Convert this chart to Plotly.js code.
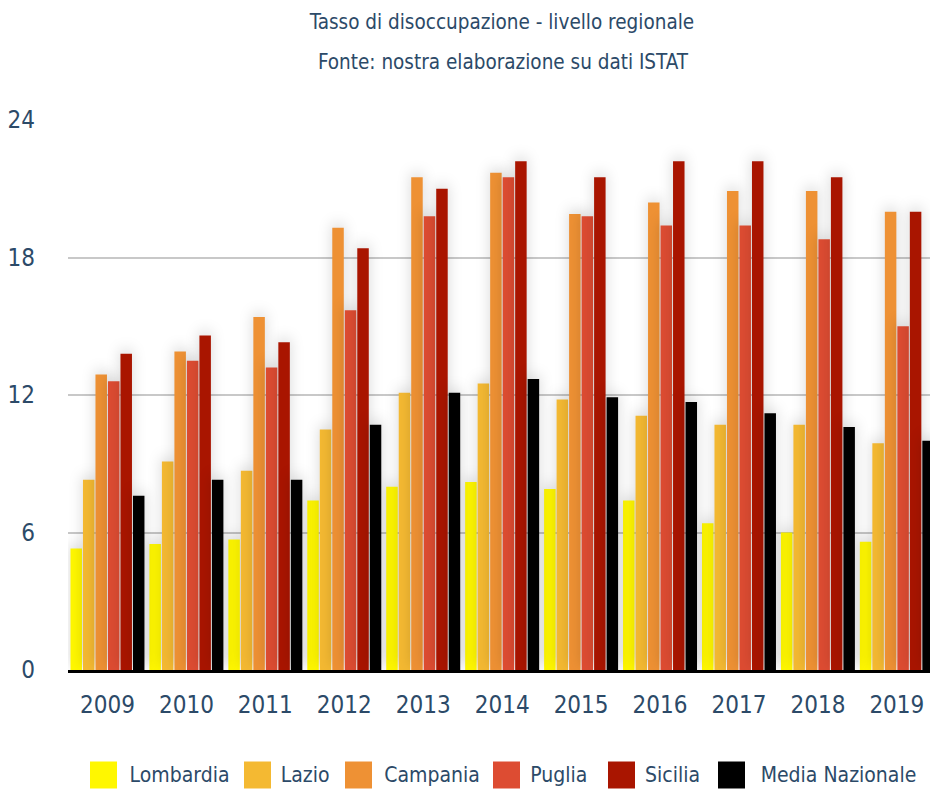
<!DOCTYPE html>
<html>
<head>
<meta charset="utf-8">
<script src="https://cdn.plot.ly/plotly-3.0.1.min.js"></script>
<style>
html,body{margin:0;padding:0;background:#fff;}
#chart{width:930px;height:789px;}
#chart text{font-stretch:condensed !important;}
#chart g.barlayer g.trace{filter:drop-shadow(0px -4px 7px rgba(0,0,0,0.16));}
</style>
</head>
<body>
<div id="chart"></div>
<script>
const years = ["2009","2010","2011","2012","2013","2014","2015","2016","2017","2018","2019"];
const seriesNames = ["Lombardia","Lazio","Campania","Puglia","Sicilia","Media Nazionale"];
const lombardia = [5.3, 5.5, 5.7, 7.4, 8.0, 8.2, 7.9, 7.4, 6.4, 6.0, 5.6];
const lazio     = [8.3, 9.1, 8.7, 10.5, 12.1, 12.5, 11.8, 11.1, 10.7, 10.7, 9.9];
const campania  = [12.9, 13.9, 15.4, 19.3, 21.5, 21.7, 19.9, 20.4, 20.9, 20.9, 20.0];
const puglia    = [12.6, 13.5, 13.2, 15.7, 19.8, 21.5, 19.8, 19.4, 19.4, 18.8, 15.0];
const sicilia   = [13.8, 14.6, 14.3, 18.4, 21.0, 22.2, 21.5, 22.2, 22.2, 21.5, 20.0];
const media     = [7.6, 8.3, 8.3, 10.7, 12.1, 12.7, 11.9, 11.7, 11.2, 10.6, 10.0];
const yTicks = [0, 6, 12, 18, 24];
const titleLine1 = "Tasso di disoccupazione - livello regionale";
const titleLine2 = "Fonte: nostra elaborazione su dati ISTAT";

const colors = ["#FFF700", "#F4B932", "#EE9134", "#DD4C32", "#A91500", "#000000"];
const values = [lombardia, lazio, campania, puglia, sicilia, media];
const FONT = "'DejaVu Sans', sans-serif";
const TXT = "#2c4a68";
const LEGSIZE = 21;

const traces = seriesNames.map((n, i) => ({
  type: "bar", name: n, x: years, y: values[i],
  marker: {color: colors[i], line: {width: 0}},
  hoverinfo: "x+y+name", showlegend: false
}));

// manual legend with large square swatches (pixel positions of the swatches)
const legSwatchX = [90, 244, 345, 493, 608, 718];
const shapes = [];
const annotations = [];
const legY = 775;
const px2x = p => (p - 68) / 862;
const px2y = p => (670 - p) / 550;
seriesNames.forEach((n, i) => {
  const xp = legSwatchX[i];
  shapes.push({type: "rect", layer: "above", line: {width: 0}, fillcolor: colors[i],
    xref: "paper", yref: "paper",
    x0: px2x(xp), x1: px2x(xp + 27), y0: px2y(legY + 13.5), y1: px2y(legY - 13.5)});
  annotations.push({xref: "paper", yref: "paper", x: px2x(xp + 32), y: px2y(legY),
    xanchor: "left", yanchor: "middle", showarrow: false, text: n,
    font: {family: FONT, size: LEGSIZE, color: TXT}});
});

annotations.push({xref: "paper", yref: "paper", x: px2x(503), y: px2y(62), xanchor: "center", yanchor: "middle",
  showarrow: false, text: titleLine2, font: {family: FONT, size: 20.5, color: TXT}});

const layout = {
  width: 930, height: 789,
  margin: {l: 68, r: 0, t: 120, b: 119},
  paper_bgcolor: "#ffffff", plot_bgcolor: "#ffffff",
  title: {text: titleLine1, x: 502 / 930, xanchor: "center", y: 1 - 22 / 789, yanchor: "middle",
    font: {family: FONT, size: 20.5, color: TXT}},
  barmode: "group", bargap: 0.05, bargroupgap: 0.08,
  showlegend: false,
  font: {family: FONT, color: TXT},
  xaxis: {type: "category", range: [-0.5, 10.42], showgrid: false, showline: true, linecolor: "#000000", linewidth: 3,
    ticks: "", tickfont: {family: FONT, size: 24, color: TXT}, ticklabelstandoff: 11, fixedrange: true},
  yaxis: {range: [0, 24], tickvals: yTicks, ticktext: yTicks.map(String), showgrid: true, gridcolor: "#c8c8c8", gridwidth: 2,
    zeroline: false, showline: false, ticks: "", tickfont: {family: FONT, size: 24, color: TXT}, ticklabelstandoff: 32, fixedrange: true},
  shapes: shapes, annotations: annotations
};

Plotly.newPlot("chart", traces, layout, {displayModeBar: false, staticPlot: true});
</script>
</body>
</html>
